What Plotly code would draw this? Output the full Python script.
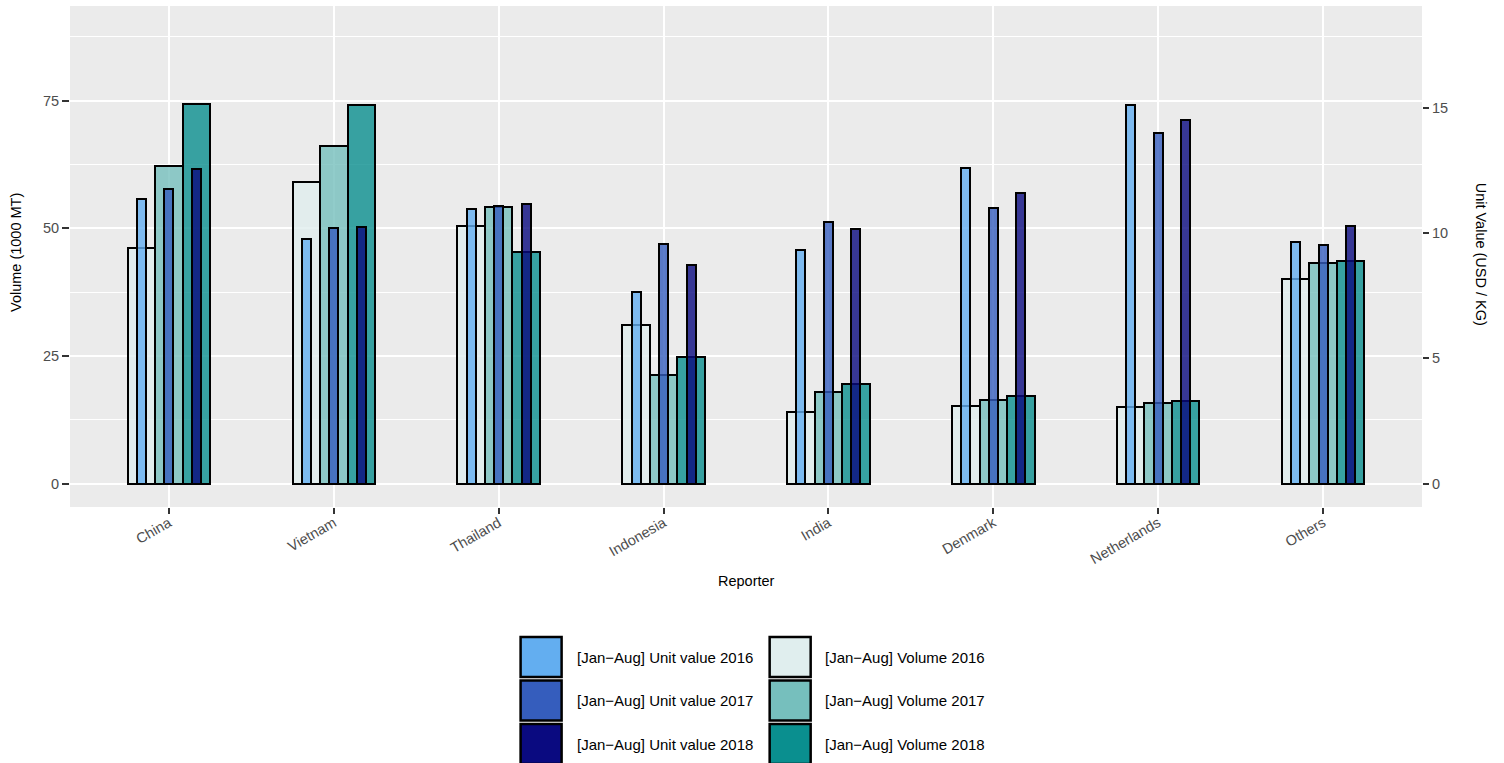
import plotly.graph_objects as go

# ---------------- data ----------------
categories = ["China", "Vietnam", "Thailand", "Indonesia", "India", "Denmark", "Netherlands", "Others"]

vol_2016 = [46.1, 59.0, 50.5, 31.0, 14.1, 15.2, 14.9, 40.1]
vol_2017 = [62.3, 66.1, 54.1, 21.2, 18.0, 16.3, 15.7, 43.3]
vol_2018 = [74.3, 74.1, 45.3, 24.8, 19.4, 17.2, 16.2, 43.6]

uv_2016 = [11.37, 9.76, 10.94, 7.66, 9.33, 12.60, 15.12, 9.64]
uv_2017 = [11.74, 10.18, 11.07, 9.57, 10.44, 10.99, 14.00, 9.53]
uv_2018 = [12.54, 10.25, 11.14, 8.72, 10.17, 11.61, 14.52, 10.26]

vol_names = ["[Jan\u2212Aug] Volume 2016", "[Jan\u2212Aug] Volume 2017", "[Jan\u2212Aug] Volume 2018"]
uv_names = ["[Jan\u2212Aug] Unit value 2016", "[Jan\u2212Aug] Unit value 2017", "[Jan\u2212Aug] Unit value 2018"]

left_ticks = [0, 25, 50, 75]
left_minor = [12.5, 37.5, 62.5, 87.5]
right_ticks = [0, 5, 10, 15]

# ---------------- styling ----------------
vol_colors = ["#E0EEEE", "#76BFBD", "#0A8F8F"]
uv_colors = ["#63AEF0", "#355DBD", "#0A0A80"]
ALPHA = 0.8
FONT = "Liberation Sans, Arial, Helvetica, sans-serif"
TICK_SIZE = 14.5

W = 1 / 6      # volume bar width (category units)
U = 0.055      # unit value bar width

SEC_FACTOR = 4.91
left_range = [-4.6, 93.55]
right_range = [left_range[0] / SEC_FACTOR, left_range[1] / SEC_FACTOR]

# plot panel in pixels
PL, PR, PT, PB = 70, 1421.7, 6, 507
FIG_W, FIG_H = 1504, 763


def rgba(hexc, a):
    h = hexc.lstrip("#")
    r, g, b = int(h[0:2], 16), int(h[2:4], 16), int(h[4:6], 16)
    return f"rgba({r},{g},{b},{a})"


def px2x(px):
    return (px - PL) / (PR - PL)


def px2y(py):
    return (PB - py) / (PB - PT)


fig = go.Figure()

vol_series = [vol_2016, vol_2017, vol_2018]
uv_series = [uv_2016, uv_2017, uv_2018]

for i, vals in enumerate(vol_series):
    fig.add_bar(
        x=categories, y=vals, name=vol_names[i],
        width=W, offset=-1.5 * W + i * W,
        marker=dict(color=rgba(vol_colors[i], ALPHA), line=dict(color="black", width=2)),
        yaxis="y", showlegend=False,
    )

for i, vals in enumerate(uv_series):
    fig.add_bar(
        x=categories, y=vals, name=uv_names[i],
        width=U, offset=(i - 1) * W - U / 2,
        marker=dict(color=rgba(uv_colors[i], ALPHA), line=dict(color="black", width=2)),
        yaxis="y2", showlegend=False,
    )

# ---------------- legend (drawn manually, 2 columns x 3 rows) ----------------
shapes = []
annotations = []
row_tops = [637, 680.5, 724]
KEY_H = 40
cols = [
    (520.5, 561.5, 575, uv_names, uv_colors),
    (769.5, 810.5, 823, vol_names, vol_colors),
]
for x0, x1, tx, names, colors in cols:
    for r, top in enumerate(row_tops):
        shapes.append(dict(
            type="rect", xref="paper", yref="paper",
            x0=px2x(x0), x1=px2x(x1), y0=px2y(top + KEY_H), y1=px2y(top),
            fillcolor=colors[r], line=dict(color="black", width=2.5), layer="above",
        ))
        annotations.append(dict(
            xref="paper", yref="paper", x=px2x(tx), y=px2y(top + KEY_H / 2),
            text=names[r], showarrow=False, xanchor="left", yanchor="middle",
            font=dict(family=FONT, size=15, color="black"),
        ))

# axis titles
annotations.append(dict(
    xref="paper", yref="paper", x=px2x(16), y=px2y(252), text="Volume (1000 MT)",
    showarrow=False, textangle=-90, xanchor="center", yanchor="middle",
    font=dict(family=FONT, size=14.5, color="black"),
))
annotations.append(dict(
    xref="paper", yref="paper", x=px2x(1481), y=px2y(254), text="Unit Value (USD / KG)",
    showarrow=False, textangle=90, xanchor="center", yanchor="middle",
    font=dict(family=FONT, size=14.5, color="black"),
))
annotations.append(dict(
    xref="paper", yref="paper", x=0.5, y=px2y(581), text="Reporter",
    showarrow=False, xanchor="center", yanchor="middle",
    font=dict(family=FONT, size=14.5, color="black"),
))

fig.update_layout(
    width=FIG_W, height=FIG_H,
    margin=dict(l=PL, r=FIG_W - PR, t=PT, b=FIG_H - PB, pad=0),
    paper_bgcolor="white", plot_bgcolor="#EBEBEB",
    barmode="overlay", bargap=0,
    font=dict(family=FONT, color="#4D4D4D"),
    shapes=shapes, annotations=annotations,
    xaxis=dict(
        type="category", range=[-0.6, len(categories) - 0.4],
        showgrid=True, gridcolor="white", gridwidth=2,
        ticks="outside", ticklen=6, tickwidth=1.5, tickcolor="#333333",
        tickangle=-30, ticklabelstandoff=-5,
        tickfont=dict(family=FONT, size=TICK_SIZE, color="#4D4D4D"),
        showline=False, zeroline=False, fixedrange=True,
    ),
    yaxis=dict(
        range=left_range, tickvals=left_ticks,
        showgrid=True, gridcolor="white", gridwidth=2,
        minor=dict(tickvals=left_minor, showgrid=True, gridcolor="white", gridwidth=1.2, ticks=""),
        ticks="outside", ticklen=7, tickwidth=1.5, tickcolor="#333333",
        tickfont=dict(family=FONT, size=TICK_SIZE, color="#4D4D4D"),
        showline=False, zeroline=False,
    ),
    yaxis2=dict(
        overlaying="y", side="right", range=right_range, tickvals=right_ticks,
        showgrid=False, ticks="outside", ticklen=6, tickwidth=1.5, tickcolor="#333333",
        tickfont=dict(family=FONT, size=TICK_SIZE, color="#4D4D4D"),
        showline=False, zeroline=False,
    ),
    showlegend=False,
)

fig.write_html(
    "out.html",
    config={"displayModeBar": False},
    post_script="document.body.style.margin='0';document.body.style.overflow='hidden';",
)
